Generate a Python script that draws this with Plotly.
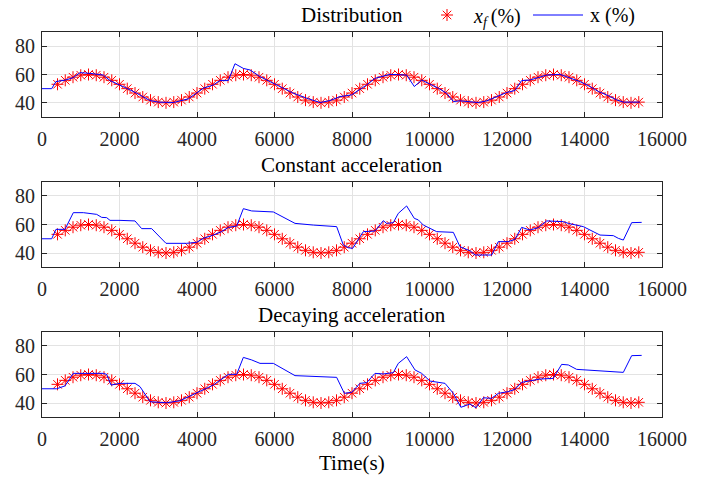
import plotly.graph_objects as go

# ---------------- data ----------------
t_f = list(range(400, 15401, 200))
x_f = [53.1, 55.9, 58.1, 59.5, 60.0, 59.5, 58.1, 55.9, 53.1, 50.0,
       46.9, 44.1, 41.9, 40.5, 40.0, 40.5, 41.9, 44.1, 46.9, 50.0,
       53.1, 55.9, 58.1, 59.5, 60.0, 59.5, 58.1, 55.9, 53.1, 50.0,
       46.9, 44.1, 41.9, 40.5, 40.0, 40.5, 41.9, 44.1, 46.9, 50.0,
       53.1, 55.9, 58.1, 59.5, 60.0, 59.5, 58.1, 55.9, 53.1, 50.0,
       46.9, 44.1, 41.9, 40.5, 40.0, 40.5, 41.9, 44.1, 46.9, 50.0,
       53.1, 55.9, 58.1, 59.5, 60.0, 59.5, 58.1, 55.9, 53.1, 50.0,
       46.9, 44.1, 41.9, 40.5, 40.0, 40.5]

t_dist = [0, 250, 360, 593, 808, 980, 1239, 1583, 1755, 2013, 2185, 2443, 2615,
          2787, 3000, 3390, 3776, 3990, 4163, 4421, 4593, 4808, 4980, 5196, 5368,
          5626, 5884, 6142, 6486, 6830, 7174, 7432, 7690, 7991, 8206, 8378, 8593,
          8808, 8980, 9410, 9608, 9798, 10013, 10228, 10443, 10615, 10787, 11045,
          11260, 11475, 11733, 11991, 12206, 12378, 12593, 12808, 13023, 13367,
          13626, 13884, 14142, 14357, 14572, 14830, 15002, 15432]
x_dist = [50, 50, 55, 56, 57.8, 61.3, 60.8, 59.6, 55.7, 52.6, 50.3, 46.8, 44.4,
          41.6, 40.5, 40.2, 42.8, 46.8, 50.3, 52.6, 55.7, 55.7, 67.6, 64.3, 63.2,
          58.5, 55, 51.5, 46.8, 43.3, 40.2, 41.6, 44.4, 45.6, 49.6, 52.6, 57.3,
          58.9, 60.1, 59.6, 51.5, 56.1, 53.3, 50.3, 46.8, 40.9, 41.4, 40.9,
          40.2, 41.4, 44.4, 47.3, 48.7, 55.7, 56.1, 57.8, 59.6, 60.1,
          57.8, 55, 51.5, 48, 45.6, 42.1, 40.5, 40.5]

t_const = [0, 250, 360, 593, 808, 1067, 1411, 1540, 1669, 1755, 2013, 2400, 2572,
           2830, 3200, 3733, 3990, 4163, 4421, 4636, 4808, 5024, 5196, 5411, 5970,
           6529, 7002, 7604, 7776, 7905, 8017, 8292, 8593, 8808, 8894, 9066, 9195,
           9410, 9608, 9712, 9841, 10185, 10615, 10787, 11045, 11174, 11604, 11776,
           12034, 12206, 12378, 12593, 12808, 13023, 13453, 13583, 13970, 14400,
           14744, 14873, 15002, 15217, 15475]
x_const = [50, 50, 56.6, 56.6, 68.3, 68.3, 67.1, 65, 64.8, 62.9, 62.9, 62.5, 57.1,
           57.1, 46.8, 46.8, 47.5, 50.3, 52.6, 55, 58, 58.9, 71.1, 69.5, 68.8,
           60.8, 59.6, 58.5, 45.6, 43.7, 43.3, 55, 55.4, 62.7, 60.8, 61.3, 67.8,
           73, 64.3, 63.2, 59.6, 55, 54.5, 44.4, 41.6, 38.6, 38.6, 48,
           48, 49.6, 58, 56.1, 57.8, 62.5, 62, 60.8, 58.5, 52.6,
           52.2, 50.3, 49.1, 61.3, 61.5]

t_decay = [0, 378, 593, 808, 1583, 1669, 1781, 2013, 2400, 2529, 2787, 3218, 3561,
           3990, 4421, 4808, 5024, 5196, 5411, 5626, 5970, 6529, 7604, 7802, 7991,
           8206, 8378, 8593, 8808, 9066, 9195, 9410, 9625, 9798, 10013, 10400,
           10615, 10810, 11045, 11200, 11389, 11604, 11776, 12034, 12206, 12378,
           12593, 12851, 13195, 13410, 13583, 13798, 15002, 15217, 15475]
x_decay = [50, 50, 52, 60.8, 60.8, 60.1, 52.6, 53.8, 53.8, 51.5, 40.9, 40.2, 41.6,
           46.8, 52.6, 60.1, 60.1, 72, 70.2, 67.8, 67.8, 59.2, 58, 46.8, 47.5,
           53.8, 54.3, 60.8, 60.4, 61.3, 67.8, 72.5, 63.2, 60.8, 55.4, 53.8,
           46.8, 37, 39.3, 36.7, 43.7, 43.3, 46.8, 48, 49.6, 54.5,
           55.7, 56.8, 57.3, 67.1, 66.7, 63.6, 61.5, 73.2, 73.4]

titles = ["Distribution", "Constant acceleration", "Decaying acceleration"]
x_ticks = list(range(0, 16001, 2000))
y_ticks = [40, 60, 80]

# ---------------- layout ----------------
W, H = 715, 481
FONT = "Liberation Serif"
X0, X1 = 42, 662
panels = [(32, 117), (181.7, 267.3), (331.7, 417.3)]
title_y = [15, 165, 315]
BLUE = "#0000ff"
RED = "#ff0000"

fig = go.Figure()
series = [(t_dist, x_dist), (t_const, x_const), (t_decay, x_decay)]
for i, (tt, xx) in enumerate(series):
    ax = "" if i == 0 else str(i + 1)
    fig.add_trace(go.Scatter(
        x=t_f, y=x_f, mode="markers", name="<i>x</i><sub><i>f</i></sub>\u2009(%)",
        marker=dict(symbol="asterisk-open", size=10, color=RED,
                    line=dict(color=RED, width=1)),
        showlegend=(i == 0), xaxis="x" + ax, yaxis="y" + ax))
    fig.add_trace(go.Scatter(
        x=tt, y=xx, mode="lines", name="x (%)",
        line=dict(color=BLUE, width=1),
        showlegend=False, xaxis="x" + ax, yaxis="y" + ax))

axis_common = dict(showline=True, linecolor="#262626", linewidth=1, mirror="allticks",
                   ticks="inside", ticklen=5, tickcolor="#262626", automargin=False,
                   showgrid=True, gridcolor="#e3e3e3", gridwidth=1, zeroline=False,
                   tickfont=dict(family=FONT, size=20, color="#262626"))

layout = dict(width=W, height=H, margin=dict(l=0, r=0, t=0, b=0, autoexpand=False),
              template="none",
              plot_bgcolor="white", paper_bgcolor="white",
              font=dict(family=FONT, size=20, color="#262626"),
              legend=dict(orientation="h", x=420 / W, y=1 - 15 / H, xanchor="left",
                          yanchor="middle", font=dict(family=FONT, size=20, color="#000000"),
                          bgcolor="rgba(0,0,0,0)", itemwidth=44, tracegroupgap=0))
annotations = []
for i, (top, bot) in enumerate(panels):
    ax = "" if i == 0 else str(i + 1)
    layout["xaxis" + ax] = dict(axis_common, domain=[X0 / W, X1 / W], range=[0, 16000],
                                tickvals=x_ticks, ticktext=[str(v) for v in x_ticks],
                                ticklabelstandoff=4, anchor="y" + ax)
    layout["yaxis" + ax] = dict(axis_common, domain=[1 - bot / H, 1 - top / H], range=[30, 90],
                                tickvals=y_ticks, ticklabelstandoff=2, anchor="x" + ax)
    annotations.append(dict(text=titles[i], x=(X0 + X1) / 2 / W, y=1 - title_y[i] / H,
                            xref="paper", yref="paper", showarrow=False,
                            xanchor="center", yanchor="middle",
                            font=dict(family=FONT, size=21, color="#000000")))
annotations.append(dict(text="Time(s)", x=(X0 + X1) / 2 / W, y=1 - 463 / H,
                        xref="paper", yref="paper", showarrow=False,
                        xanchor="center", yanchor="middle",
                        font=dict(family=FONT, size=21, color="#000000")))
# legend entry for the blue line (longer line sample, as in the reference)
annotations.append(dict(text="x (%)", x=588 / W, y=1 - 15 / H,
                        xref="paper", yref="paper", showarrow=False,
                        xanchor="left", yanchor="middle",
                        font=dict(family=FONT, size=20, color="#000000")))
layout["annotations"] = annotations
layout["shapes"] = [dict(type="line", xref="paper", yref="paper",
                         x0=533 / W, x1=583 / W, y0=1 - 15 / H, y1=1 - 15 / H,
                         line=dict(color=BLUE, width=1))]
fig.update_layout(**layout)

fig.write_html("out.html")
